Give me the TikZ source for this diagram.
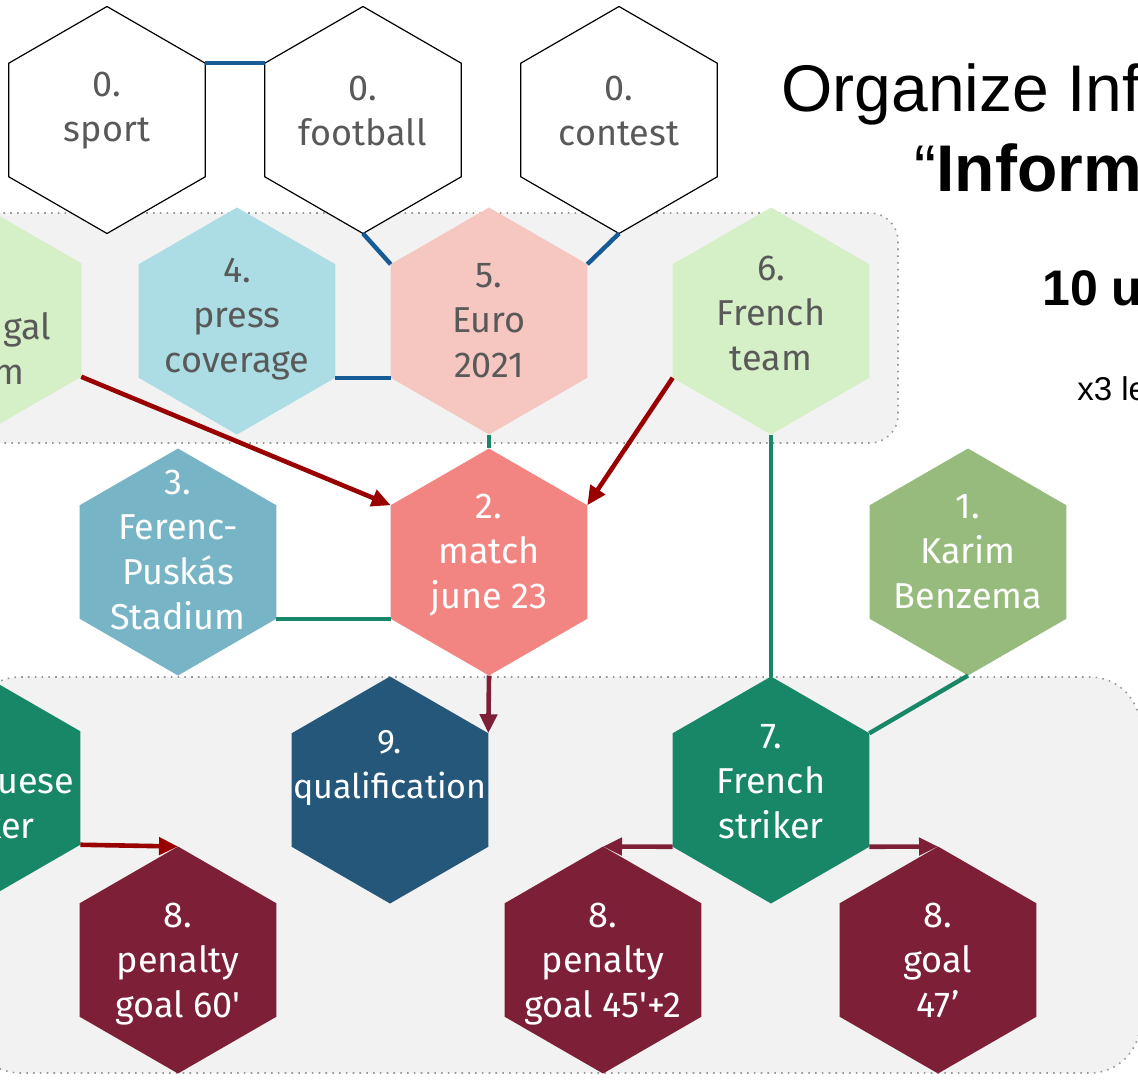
\documentclass[tikz,border=0pt]{standalone}
\usepackage{fontspec}
\setmainfont{Fira Sans}
\newfontfamily\titlefont{Liberation Sans}
\usetikzlibrary{shapes.geometric,arrows.meta}

\definecolor{textgray}{HTML}{595959}
\definecolor{bandgray}{HTML}{F2F2F2}
\definecolor{lightgreen}{HTML}{D5EFC7}
\definecolor{lightblue}{HTML}{ACDCE4}
\definecolor{pinkeuro}{HTML}{F5C7C0}
\definecolor{salmon}{HTML}{F28582}
\definecolor{steelblue}{HTML}{76B4C6}
\definecolor{olivegreen}{HTML}{97BB7D}
\definecolor{tealgreen}{HTML}{178768}
\definecolor{navyblue}{HTML}{245779}
\definecolor{maroon}{HTML}{7C1F37}
\definecolor{linkblue}{HTML}{165A96}
\definecolor{darkred}{HTML}{990000}

\tikzset{
  hexa/.style={regular polygon, regular polygon sides=6, shape border rotate=30,
    minimum size=113.5pt, inner sep=0pt, outer sep=0pt, draw=none},
  whitehex/.style={hexa, fill=white, draw=black, line width=0.6pt},
  hexlabel/.style={align=center, inner sep=0pt, font=\fontsize{18}{22.5}\selectfont},
  band/.style={fill=bandgray, draw=gray!80, line width=0.8pt, dash pattern=on 0.8pt off 2.6pt},
  link/.style={line width=2.2pt},
  arr/.style={line width=2.3pt, -{Triangle[length=9.5pt,width=8.5pt]}},
}

\begin{document}
\begin{tikzpicture}[x=0.5pt,y=-0.5pt]
  \useasboundingbox (0,0) rectangle (1138,1080);
  \clip (0,0) rectangle (1138,1080);
  \fill[white] (0,0) rectangle (1138,1080);

  % grey bands
  \draw[band, rounded corners=14pt] (-30,213) rectangle (898,443);
  \draw[band, rounded corners=25pt] (-30,677) rectangle (1140,1073);

  % top row
  \node[whitehex] (sport) at (107,120) {};
  \node[whitehex] (football) at (363,120) {};
  \node[whitehex] (contest) at (619,120) {};

  % second row
  \node[hexa, fill=lightgreen] (ptteam) at (-17,320) {};
  \node[hexa, fill=lightblue] (press) at (237,321) {};
  \node[hexa, fill=pinkeuro] (euro) at (489,321) {};
  \node[hexa, fill=lightgreen] (frteam) at (771,321) {};

  % third row
  \node[hexa, fill=steelblue] (stadium) at (178,562) {};
  \node[hexa, fill=salmon] (match) at (489,562) {};
  \node[hexa, fill=olivegreen] (karim) at (968,562) {};

  % fourth row
  \node[hexa, fill=tealgreen] (ptstriker) at (-18,788) {};
  \node[hexa, fill=navyblue] (qualif) at (390,790) {};
  \node[hexa, fill=tealgreen] (frstriker) at (771,790) {};

  % bottom row
  \node[hexa, fill=maroon] (pen60) at (178,960) {};
  \node[hexa, fill=maroon] (pen45) at (603,960) {};
  \node[hexa, fill=maroon] (goal47) at (938,960) {};

  % links
  \draw[link, linkblue] (sport.30) -- (football.150);
  \draw[link, linkblue] (football.-90) -- (euro.150);
  \draw[link, linkblue] (contest.-90) -- (euro.30);
  \draw[link, linkblue] (press.-30) -- (euro.-150);
  \draw[link, tealgreen] (euro.-90) -- (match.90);
  \draw[link, tealgreen] (stadium.-30) -- (match.-150);
  \draw[link, tealgreen] (frteam.-90) -- (frstriker.90);
  \draw[link, tealgreen] (karim.-90) -- (frstriker.30);
  \draw[arr, darkred] (ptteam.-30) -- (match.150);
  \draw[arr, darkred] (frteam.-150) -- (match.30);
  \draw[arr, darkred] (ptstriker.-30) -- (pen60.90);
  \draw[arr, maroon] (match.-90) -- (qualif.30);
  \draw[arr, maroon] (frstriker.-150) -- (pen45.90);
  \draw[arr, maroon] (frstriker.-30) -- (goal47.90);

  % labels
  \node[hexlabel, text=textgray, yshift=4.5pt] (sport-t) at (sport) {0.\\sport};
  \node[hexlabel, text=textgray, yshift=4.5pt] (football-t) at (football) {0.\\football};
  \node[hexlabel, text=textgray, yshift=4.5pt] (contest-t) at (contest) {0.\\contest};
  \node[hexlabel, text=textgray, yshift=-3.5pt] (ptteam-t) at (ptteam) {6.\\Portugal\\team};
  \node[hexlabel, text=textgray, yshift=1pt] (press-t) at (press) {4.\\press\\coverage};
  \node[hexlabel, text=textgray] (euro-t) at (euro) {5.\\Euro\\2021};
  \node[hexlabel, text=textgray, yshift=4pt] (frteam-t) at (frteam) {6.\\French\\team};
  \node[hexlabel, text=white, yshift=6pt] (stadium-t) at (stadium) {3.\\Ferenc-\\Puskás\\Stadium};
  \node[hexlabel, text=white, yshift=3.5pt] (match-t) at (match) {2.\\match\\june 23};
  \node[hexlabel, text=white, yshift=5pt] (karim-t) at (karim) {1.\\Karim\\Benzema};
  \node[hexlabel, text=white, yshift=3pt] (ptstriker-t) at (ptstriker) {7.\\Portuguese\\striker};
  \node[hexlabel, text=white, yshift=11pt, font=\fontsize{17}{22.5}\selectfont] (qualif-t) at (qualif) {9.\\qualification};
  \node[hexlabel, text=white, yshift=4pt] (frstriker-t) at (frstriker) {7.\\French\\striker};
  \node[hexlabel, text=white, yshift=-2pt] (pen60-t) at (pen60) {8.\\penalty\\goal 60\textquotesingle};
  \node[hexlabel, text=white, yshift=-2pt] (pen45-t) at (pen45) {8.\\penalty\\goal 45\textquotesingle+2};
  \node[hexlabel, text=white] (goal47-t) at (goal47) {8.\\goal\\47’};

  % title
  \node[anchor=base west, inner sep=0pt, font=\titlefont\fontsize{33}{36}\selectfont] (title) at (781,112) {Organize Inf};
  \node[anchor=base west, inner sep=0pt, font=\titlefont\fontsize{33}{36}\selectfont] (subtitle) at (914,192) {“\textbf{Inform}};
  \node[anchor=base west, inner sep=0pt, font=\titlefont\bfseries\fontsize{25}{28}\selectfont] (units) at (1042,306) {10 u};
  \node[anchor=base west, inner sep=0pt, font=\titlefont\fontsize{16.5}{18}\selectfont] (levels) at (1077,400) {x3 le};
\end{tikzpicture}
\end{document}
